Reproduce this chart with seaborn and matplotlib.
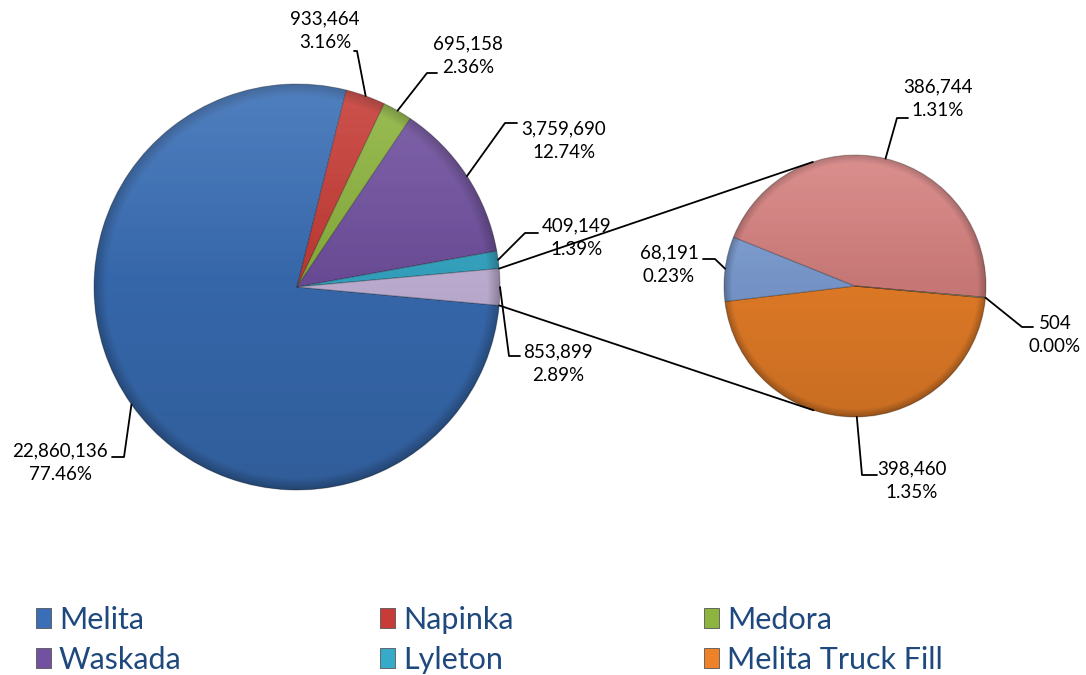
import numpy as np
import matplotlib.pyplot as plt
import matplotlib.patches as mpatches
import matplotlib.lines as mlines
import seaborn as sns

# main pie: stations, the last slice is split out into the small pie
stations = ["Melita", "Napinka", "Medora", "Waskada", "Lyleton"]
station_values = [22860136, 933464, 695158, 3759690, 409149]
split_names = ["Melita Truck Fill", "Point 7", "Point 8", "Point 9"]
split_values = [398460, 68191, 386744, 504]

station_colors = ["#3A6FB7", "#C73C36", "#8DB43E", "#7151A0", "#36AAC8"]
other_color = "#C8B8DE"
split_colors = ["#EE8229", "#7E9FD6", "#D6817F", "#A9C77A"]

W, H = 1086, 675

sns.set_style("white")
plt.rcParams['font.family'] = ['Lato', 'DejaVu Sans']

fig = plt.figure(figsize=(W / 100, H / 100), dpi=100)

total = sum(station_values) + sum(split_values)
other_total = sum(split_values)
other_deg = 360.0 * other_total / total


def fig_xy(x, y):
    # pixel position in the 1086x675 picture -> figure fraction
    return x / W, 1 - y / H


def data_to_fig(ax, x, y):
    return fig.transFigure.inverted().transform(ax.transData.transform((x, y)))


def make_pie_axes(cx, cy, r, pad=1.04):
    ax = fig.add_axes([(cx - r * pad) / W, 1 - (cy + r * pad) / H,
                       2 * r * pad / W, 2 * r * pad / H])
    return ax


def shade(ax):
    n = 400
    yy, xx = np.mgrid[1:-1:n * 1j, -1:1:n * 1j]
    rr = np.hypot(xx, yy)
    dark = np.zeros((n, n, 4))
    dark[..., 3] = 0.16 * (1 - yy) / 2 + 0.22 * np.clip((rr - 0.94) / 0.06, 0, 1)
    light = np.ones((n, n, 4))
    light[..., 3] = 0.12 * np.clip(yy, 0, 1)
    for img in (dark, light):
        im = ax.imshow(img, extent=(-1, 1, -1, 1), zorder=3, interpolation="bilinear")
        im.set_clip_path(mpatches.Circle((0, 0), 1, transform=ax.transData))


def leader(ax, angle, elbow, end):
    a = np.deg2rad(angle)
    sx, sy = data_to_fig(ax, np.cos(a), np.sin(a))
    ex, ey = fig_xy(*elbow)
    tx, ty = fig_xy(*end)
    fig.add_artist(mlines.Line2D([sx, ex, tx], [sy, ey, ty], color="black",
                                 lw=1.3, transform=fig.transFigure))


def label(text_center, value):
    x, y = fig_xy(*text_center)
    fig.text(x, y, f"{value:,}\n{value / total:.2%}", ha="center", va="center",
             multialignment="center", fontsize=13.5, linespacing=1.45, color="black")


# ---- main pie
ax1 = make_pie_axes(297, 287, 203)
main_values = station_values + [other_total]
main_colors = station_colors + [other_color]
wedges1, _ = ax1.pie(main_values, colors=main_colors, startangle=-other_deg / 2,
                     counterclock=False, radius=1,
                     wedgeprops=dict(linewidth=0.8, edgecolor="#00000040"))
shade(ax1)
ax1.set_xlim(-1.04, 1.04)
ax1.set_ylim(-1.04, 1.04)
ax1.axis("off")

# ---- split pie
ax2 = make_pie_axes(855, 286, 131)
wedges2, _ = ax2.pie(split_values, colors=split_colors, startangle=-other_deg / 2,
                     counterclock=False, radius=1,
                     wedgeprops=dict(linewidth=0.8, edgecolor="#00000040"))
shade(ax2)
ax2.set_xlim(-1.04, 1.04)
ax2.set_ylim(-1.04, 1.04)
ax2.axis("off")

# ---- connector lines: from the edges of the split slice, tangent to the small pie
disp_c = ax2.transData.transform((0, 0))
disp_r = ax2.transData.transform((1, 0))[0] - disp_c[0]
ow = wedges1[-1]
for theta, sign in ((ow.theta2, -1), (ow.theta1, 1)):
    t = np.deg2rad(theta)
    p = ax1.transData.transform((np.cos(t), np.sin(t)))
    v = p - disp_c
    d = np.hypot(*v)
    phi = np.arctan2(v[1], v[0])
    alpha = np.arccos(disp_r / d)
    q = disp_c + disp_r * np.array([np.cos(phi + sign * alpha), np.sin(phi + sign * alpha)])
    pf = fig.transFigure.inverted().transform(p)
    qf = fig.transFigure.inverted().transform(q)
    fig.add_artist(mlines.Line2D([pf[0], qf[0]], [pf[1], qf[1]], color="black",
                                 lw=1.3, transform=fig.transFigure))

# ---- data labels with leader lines
main_elbows = [(124, 457), (357, 51), (427, 73), (505, 123), (525, 233), (509, 356)]
main_ends = [(112, 457), (354, 51), (437, 73), (517, 123), (538, 233), (520, 356)]
main_text = [(60, 463), (325, 31), (468, 56), (564, 141), (577, 238), (558, 364)]
for w, v, el, en, tc in zip(wedges1, main_values, main_elbows, main_ends, main_text):
    leader(ax1, (w.theta1 + w.theta2) / 2, el, en)
    label(tc, v)

split_elbows = [(862, 475), (715, 259), (897, 118), (1022, 327)]
split_ends = [(877, 475), (703, 259), (908, 118), (1033, 327)]
split_text = [(912, 481), (669, 265), (938, 99), (1055, 335)]
for w, v, el, en, tc in zip(wedges2, split_values, split_elbows, split_ends, split_text):
    leader(ax2, (w.theta1 + w.theta2) / 2, el, en)
    label(tc, v)

# ---- legend, three columns of two rows
legend_names = stations + [split_names[0]]
legend_colors = station_colors + [split_colors[0]]
col_x = [36, 380, 704]
for c in range(3):
    handles = [mpatches.Patch(facecolor=legend_colors[i], edgecolor="#555555", lw=0.6,
                              label=legend_names[i]) for i in (c, c + 3)]
    fig.legend(handles=handles, loc="upper left", bbox_to_anchor=fig_xy(col_x[c], 606),
               frameon=False, fontsize=22, labelcolor="#1F497D", handlelength=0.5,
               handleheight=0.62, handletextpad=0.25, labelspacing=0.38, borderpad=0,
               borderaxespad=0)

fig.savefig("out.png", dpi=100, facecolor="white")
